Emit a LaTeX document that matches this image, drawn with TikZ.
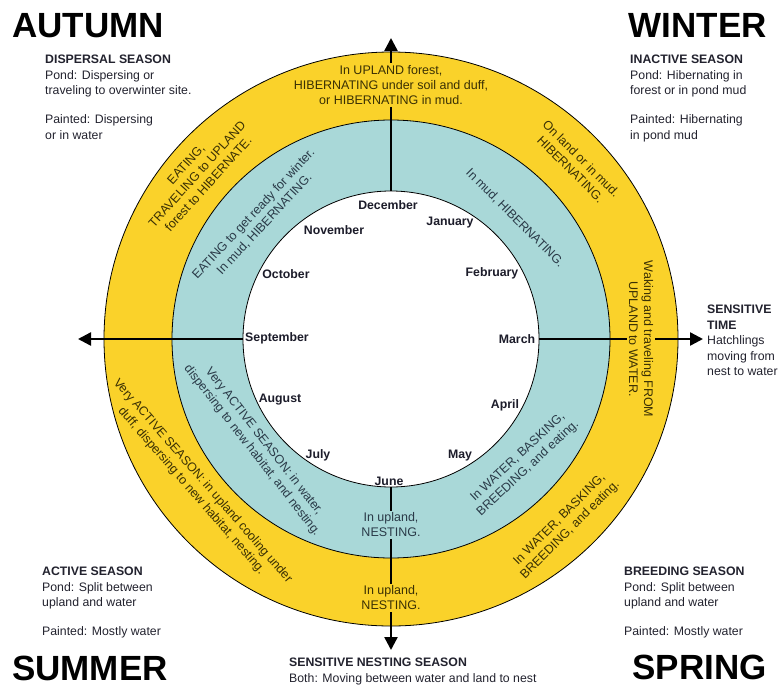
\documentclass[tikz,border=0pt]{standalone}
\usepackage{fontspec}
\setmainfont{Liberation Sans}
\usetikzlibrary{arrows.meta}

\definecolor{ringyellow}{HTML}{FAD22A}
\definecolor{ringteal}{HTML}{A9D8D8}
\definecolor{yeltext}{HTML}{3A3004}
\definecolor{tealtext}{HTML}{2A3A48}
\definecolor{infotext}{HTML}{22222E}
\definecolor{monthtext}{HTML}{1C1C2A}

\tikzset{
  season/.style={font=\fontsize{35}{35}\selectfont\bfseries, inner sep=0pt},
  info/.style={anchor=north west, align=left, inner sep=0pt, text=infotext, font=\fontsize{12.3}{15.5}\selectfont},
  month/.style={font=\fontsize{12.3}{14}\selectfont\bfseries, text=monthtext, inner sep=1pt},
  ringtext/.style={align=center, inner sep=2pt, font=\fontsize{12.5}{15}\selectfont},
  yelnote/.style={ringtext, text=yeltext},
  tealnote/.style={ringtext, text=tealtext},
  axis/.style={line width=2.4pt, black},
  axisarrow/.style={axis, -{Triangle[length=13pt,width=13pt]}}
}

\begin{document}
\begin{tikzpicture}[x=1pt, y=-1pt]
\useasboundingbox (0,0) rectangle (782,686);

% the three rings
\draw[fill=ringyellow, line width=0.8pt] (391,339) circle[radius=287pt];
\draw[fill=ringteal, line width=0.8pt] (391,339) circle[radius=219pt];
\draw[fill=white, line width=0.8pt] (391,339) circle[radius=148pt];

% seasons in the corners
\node[season, anchor=north west] (autumn) at (12,13) {AUTUMN};
\node[season, anchor=north east] (winter) at (767,13) {WINTER};
\node[season, anchor=north west] (summer) at (12,656) {SUMMER};
\node[season, anchor=north east] (spring) at (767,655) {SPRING};

\node[info] (dispersal) at (45,55) {\textbf{DISPERSAL SEASON}\\Pond: Dispersing or\\traveling to overwinter site.\\[13.5pt]Painted: Dispersing\\or in water};
\node[info] (inactive) at (630,55) {\textbf{INACTIVE SEASON}\\Pond: Hibernating in\\forest or in pond mud\\[13.5pt]Painted: Hibernating\\in pond mud};
\node[info] (active) at (42,567) {\textbf{ACTIVE SEASON}\\Pond: Split between\\upland and water\\[13.5pt]Painted: Mostly water};
\node[info] (breeding) at (624,567) {\textbf{BREEDING SEASON}\\Pond: Split between\\upland and water\\[13.5pt]Painted: Mostly water};
\node[info] (sensitive) at (707,305) {\textbf{SENSITIVE}\\\textbf{TIME}\\Hatchlings\\moving from\\nest to water};
\node[info] (nesting) at (289,658) {\textbf{SENSITIVE NESTING SEASON}\\Both: Moving between water and land to nest};

% months
\node[month] (december) at (388,205) {December};
\node[month] (january) at (450,223) {January};
\node[month] (february) at (492,273) {February};
\node[month] (march) at (517,339) {March};
\node[month] (april) at (505,405) {April};
\node[month] (may) at (460,456) {May};
\node[month] (june) at (389,481) {June};
\node[month] (july) at (318,455) {July};
\node[month] (august) at (280,400) {August};
\node[month] (september) at (277,338) {September};
\node[month] (october) at (286,274) {October};
\node[month] (november) at (334,230) {November};

% notes in the rings
\node[yelnote] (ytop) at (391,85) {In UPLAND forest,\\HIBERNATING under soil and duff,\\or HIBERNATING in mud.};
\node[yelnote, rotate=48] (yupleft) at (197,174) {EATING,\\TRAVELING to UPLAND\\forest to HIBERNATE.};
\node[tealnote, rotate=47] (tupleft) at (259,219) {EATING to get ready for winter.\\In mud, HIBERNATING.};
\node[yelnote, rotate=-45] (yupright) at (576,164) {On land or in mud.\\HIBERNATING.};
\node[tealnote, rotate=-45] (tupright) at (515,218) {In mud, HIBERNATING.};
\node[yelnote, rotate=-90] (yright) at (641,339) {Waking and traveling FROM\\UPLAND to WATER.};
\node[tealnote, rotate=43] (tlowright) at (523,463) {In WATER, BASKING,\\BREEDING, and eating.};
\node[yelnote, rotate=45] (ylowright) at (565,525) {In WATER, BASKING,\\BREEDING, and eating.};
\node[tealnote] (tbottom) at (391,525) {In upland,\\NESTING.};
\node[yelnote] (ybottom) at (391,598) {In upland,\\NESTING.};
\node[tealnote, rotate=-52] (tlowleft) at (258,446) {Very ACTIVE SEASON: in water,\\dispersing to new habitat, and nesting.};
\node[yelnote, rotate=-49] (ylowleft) at (197,486) {Very ACTIVE SEASON: in upland cooling under\\duff, dispersing to new habitat, nesting.};

% axes
\coordinate (tipN) at (391,38);
\coordinate (tipE) at (703,339);
\coordinate (tipS) at (391,650);
\coordinate (tipW) at (78,339);
\coordinate (edgeN) at (391,191);
\coordinate (edgeE) at (539,339);
\coordinate (edgeS) at (391,487);
\coordinate (edgeW) at (243,339);

\draw[axisarrow] (ytop.north) -- (tipN);
\draw[axis] (ytop.south) -- (edgeN);
\draw[axis] (edgeE) -- (yright.south);
\draw[axisarrow] (yright.north) -- (tipE);
\draw[axis] (edgeS) -- (tbottom.north);
\draw[axis] (tbottom.south) -- (ybottom.north);
\draw[axisarrow] (ybottom.south) -- (tipS);
\draw[axisarrow] (edgeW) -- (tipW);
\end{tikzpicture}
\end{document}
